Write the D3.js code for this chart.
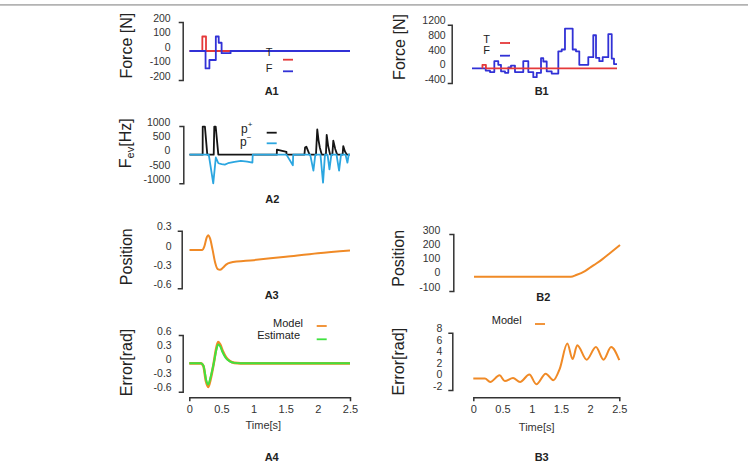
<!DOCTYPE html>
<html><head><meta charset="utf-8">
<script src="https://cdn.jsdelivr.net/npm/d3@7"></script>
<style>body{margin:0;background:#fff}svg{display:block;font-family:"Liberation Sans",Arial,Helvetica,sans-serif}</style>
</head><body><svg id="c" width="748" height="469"></svg>
<script>
// ---------- data ----------
const xTicks = [0, 0.5, 1, 1.5, 2, 2.5];
const a1Ticks = [-200, -100, 0, 100, 200];
const b1Ticks = [-400, 0, 400, 800, 1200];
const a2Ticks = [-1000, -500, 0, 500, 1000];
const a3Ticks = [-0.6, -0.3, 0, 0.3];
const b2Ticks = [-100, 0, 100, 200, 300];
const a4Ticks = [-0.6, -0.3, 0, 0.3, 0.6];
const b3Ticks = [-2, 0, 2, 4, 6, 8];

// A1 forces (step series)
const a1T_t = [0, 0.2, 0.257, 2.5];
const a1T_v = [0, 100, 0, 0];
const a1F_t = [0, 0.25, 0.31, 0.41, 0.455, 0.5, 0.64, 2.5];
const a1F_v = [0, -120, -62, 100, 57, -15, 0, 0];

// B1 forces (step series)
const b1T_t = [0.18, 0.18, 0.24, 2.5];
const b1T_v = [0, 100, 0, 0];
const b1F_t = [0, 0.236, 0.31, 0.385, 0.453, 0.5, 0.569, 0.626, 0.672, 0.741, 0.884, 0.971, 1.057, 1.116, 1.19, 1.229, 1.288, 1.374, 1.488, 1.547, 1.603, 1.736, 1.793, 1.85, 2.005, 2.091, 2.138, 2.195, 2.253, 2.35, 2.409, 2.448, 2.5];
const b1F_v = [0, -60, -100, 200, 100, -80, -120, 30, 75, -100, 200, -100, -240, -120, 280, 190, -80, -140, 470, 520, 1090, 520, 470, 100, 310, 910, 290, 200, 310, 940, 270, 120, 120];

// A2 event frequencies
const a2P_t = [0, 0.205, 0.206, 0.24, 0.277, 0.377, 0.386, 0.408, 0.449, 1.36, 1.361, 1.51, 1.511, 1.79, 1.8, 1.82, 1.87, 1.97, 1.99, 2.01, 2.03, 2.06, 2.125, 2.137, 2.16, 2.19, 2.225, 2.24, 2.27, 2.30, 2.385, 2.395, 2.42, 2.45, 2.5];
const a2P_v = [0, 0, 980, 980, 0, 0, 980, 980, 0, 0, 175, 100, 0, 0, 250, 280, 0, 0, 880, 500, 250, 0, 0, 690, 300, 0, 0, 490, 200, 0, 0, 300, 120, 0, 0];
const a2M_t = [0, 0.30, 0.37, 0.41, 0.45, 0.5, 0.55, 0.6, 0.7, 0.8, 0.9, 0.98, 0.985, 1.51, 1.61, 1.615, 1.88, 1.93, 1.96, 2.04, 2.08, 2.11, 2.15, 2.18, 2.21, 2.29, 2.33, 2.36, 2.43, 2.46, 2.48, 2.5];
const a2M_v = [0, 0, -1000, -100, -300, -330, -350, -300, -250, -220, -240, -280, 0, 0, -370, 0, 0, -560, 0, 0, -980, 0, 0, -510, 0, 0, -560, 0, 0, -280, 0, 0];

// A3 position
const a3_t = [0, 0.2, 0.23, 0.27, 0.29, 0.32, 0.36, 0.40, 0.44, 0.475, 0.52, 0.57, 0.63, 1.0, 1.5, 2.0, 2.5];
const a3_v = [0, 0, 0.05, 0.2, 0.23, 0.18, 0.0, -0.2, -0.3, -0.31, -0.28, -0.23, -0.2, -0.16, -0.107, -0.053, -0.01];

// B2 position
const b2_t = [0, 1.66, 1.75, 1.9, 2.0, 2.1, 2.2, 2.3, 2.4, 2.5];
const b2_v = [0, 0, 12, 40, 68, 95, 124, 156, 189, 223];

// A4 error
const a4M_t = [0, 0.18, 0.22, 0.26, 0.293, 0.33, 0.38, 0.42, 0.45, 0.48, 0.52, 0.57, 0.63, 0.7, 0.8, 1.0, 2.5];
const a4M_v = [0, 0, -0.06, -0.38, -0.5, -0.34, 0, 0.32, 0.45, 0.4, 0.26, 0.13, 0.05, 0.01, 0, 0, 0];
const a4E_v = [0, 0, -0.05, -0.34, -0.45, -0.3, 0, 0.28, 0.40, 0.36, 0.23, 0.11, 0.04, 0.01, 0, 0, 0];

// B3 error
const b3_t = [0, 0.2, 0.29, 0.45, 0.54, 0.68, 0.8, 0.96, 1.08, 1.24, 1.37, 1.48, 1.61, 1.70, 1.78, 1.94, 2.1, 2.23, 2.36, 2.5];
const b3_v = [0, 0, -0.6, 0.56, -0.45, 0.1, -0.6, 0.7, -1.0, 0.85, -0.3, 1.7, 6.1, 3.4, 5.8, 3.3, 5.5, 3.3, 5.5, 3.2];

// ---------- drawing ----------
const svg = d3.select("#c");
const C = {red:"#e5393a", blue:"#3131d6", black:"#151515", sky:"#2ba6e0", orange:"#f08a26", green:"#3fe23f", axis:"#333"};

svg.append("line").attr("x1",0).attr("x2",748).attr("y1",4.8).attr("y2",4.8)
  .attr("stroke","#b3b3b3").attr("stroke-width",1.7);

function panel(o){
  const x = d3.scaleLinear().domain([0,2.5]).range(o.xr);
  const y = d3.scaleLinear().domain(o.yd).range(o.yr);
  const g = svg.append("g").attr("transform",`translate(${o.ax},0)`)
    .call(d3.axisLeft(y).tickValues(o.ticks).tickSizeInner(0).tickSizeOuter(4)
      .tickPadding(o.pad).tickFormat(d=>String(d)));
  styleAxis(g);
  g.selectAll("text").attr("dy","-0.08em");
  if (o.xaxis){
    const gx = svg.append("g").attr("transform",`translate(0,${o.xaxis})`)
      .call(d3.axisBottom(x).tickValues(xTicks).tickSizeInner(0).tickSizeOuter(4)
        .tickPadding(8).tickFormat(d=>String(d)));
    styleAxis(gx);
    gx.selectAll("text").attr("font-size","11px");
  }
  return {x,y};
}
function styleAxis(g){
  g.attr("font-family",null).attr("font-size",null);
  g.select(".domain").attr("stroke",C.axis).attr("stroke-width",1.5);
  g.selectAll(".tick line").remove();
  g.selectAll("text").attr("fill","#333").attr("font-size","10.5px");
}
function series(s, t, v, color, curve, w){
  const data = d3.zip(t, v);
  svg.append("path").datum(data)
    .attr("fill","none").attr("stroke",color).attr("stroke-width",w||1.8)
    .attr("stroke-linejoin","round")
    .attr("d", d3.line().x(d=>s.x(d[0])).y(d=>s.y(d[1])).curve(curve||d3.curveLinear));
}
function ylabel(x, y, txt){
  svg.append("text").attr("transform",`translate(${x},${y}) rotate(-90)`)
    .attr("text-anchor","middle").attr("dominant-baseline","central")
    .attr("font-size","16px").attr("fill","#222").text(txt);
}
function title(x, y, txt){
  svg.append("text").attr("x",x).attr("y",y).attr("text-anchor","middle")
    .attr("dominant-baseline","central").attr("font-weight","bold")
    .attr("font-size","11px").attr("fill","#222").text(txt);
}
function ltext(x, y, txt, anchor){
  return svg.append("text").attr("x",x).attr("y",y).attr("text-anchor",anchor||"middle")
    .attr("dominant-baseline","central").attr("font-size","11px").attr("fill","#222").text(txt);
}
function dash(x1, x2, y, color){
  svg.append("line").attr("x1",x1).attr("x2",x2).attr("y1",y).attr("y2",y)
    .attr("stroke",color).attr("stroke-width",1.8);
}

// A1
const pA1 = panel({xr:[189.5,350], yd:[-200,200], yr:[80,22], ax:182.7, ticks:a1Ticks, pad:12});
series(pA1, a1T_t, a1T_v, C.red, d3.curveStepAfter);
series(pA1, a1F_t, a1F_v, C.blue, d3.curveStepAfter);
ylabel(126.7, 45.7, "Force [N]");
ltext(269, 52, "T"); ltext(269, 68, "F");
dash(283, 293, 59.7, C.red); dash(283, 293, 71.3, C.blue);
title(271.7, 91.3, "A1");

// B1
const pB1 = panel({xr:[472,617], yd:[-400,1200], yr:[83,24.7], ax:451.7, ticks:b1Ticks, pad:6});
series(pB1, b1F_t, b1F_v, C.blue, d3.curveStepAfter);
series(pB1, b1T_t, b1T_v, C.red, d3.curveStepAfter);
ylabel(399, 47, "Force [N]");
ltext(486.7, 38.7, "T"); ltext(486.7, 49.5, "F");
dash(500, 510, 43, C.red); dash(500, 510, 55.7, C.blue);
title(541.7, 91.3, "B1");

// A2
const pA2 = panel({xr:[189.5,350], yd:[-1000,1000], yr:[183.3,126], ax:183.3, ticks:a2Ticks, pad:13});
series(pA2, a2P_t, a2P_v, C.black, d3.curveLinear, 1.8);
series(pA2, a2M_t, a2M_v, C.sky, d3.curveLinear, 1.8);
{
  const t = svg.append("text").attr("transform","translate(125,143.3) rotate(-90)")
    .attr("text-anchor","middle").attr("dominant-baseline","central")
    .attr("font-size","16px").attr("fill","#222");
  t.append("tspan").text("F");
  t.append("tspan").attr("font-size","11px").attr("dy","5").text("ev");
  t.append("tspan").attr("dy","-5").text("[Hz]");
}
{
  const l1 = ltext(241, 129, "p", "start"); l1.attr("font-size","12px");
  l1.append("tspan").attr("font-size","8px").attr("dy","-5").text("+");
  const l2 = ltext(240, 142, "p", "start"); l2.attr("font-size","12px");
  l2.append("tspan").attr("font-size","8px").attr("dy","-5").text("−");
}
dash(266.7, 276.7, 132.7, C.black); dash(266.7, 276.7, 143.3, C.sky);
title(272.3, 199.3, "A2");

// A3
const pA3 = panel({xr:[189.5,350], yd:[-0.6,0.3], yr:[288.3,230.7], ax:181.7, ticks:a3Ticks, pad:10});
series(pA3, a3_t, a3_v, C.orange, d3.curveMonotoneX, 2);
ylabel(126.7, 256.7, "Position");
title(271.7, 295, "A3");

// B2
const pB2 = panel({xr:[474,620], yd:[-100,300], yr:[291,234], ax:453.3, ticks:b2Ticks, pad:13});
series(pB2, b2_t, b2_v, C.orange, d3.curveMonotoneX, 2);
ylabel(398.3, 258.3, "Position");
title(543.3, 297.3, "B2");

// A4
const pA4 = panel({xr:[189.3,350], yd:[-0.6,0.6], yr:[391.7,335], ax:182.7, ticks:a4Ticks, pad:11, xaxis:397.3});
series(pA4, a4M_t, a4M_v, C.orange, d3.curveMonotoneX, 2.6);
series(pA4, a4M_t, a4E_v, C.green, d3.curveMonotoneX, 2);
ylabel(126.7, 362.5, "Error[rad]");
ltext(303, 323.3, "Model", "end"); ltext(300, 335, "Estimate", "end");
dash(316.7, 326.7, 326, C.orange); dash(316.7, 326.7, 339.3, C.green);
svg.append("text").attr("x",263.3).attr("y",425).attr("text-anchor","middle")
  .attr("dominant-baseline","central").attr("font-size","11px").attr("fill","#333").text("Time[s]");
title(271.7, 456.7, "A4");

// B3
const pB3 = panel({xr:[473.3,619.3], yd:[-2,8], yr:[390,332.7], ax:452.3, ticks:b3Ticks, pad:10, xaxis:397.3});
series(pB3, b3_t, b3_v, C.orange, d3.curveMonotoneX, 2);
ylabel(398.3, 361.7, "Error[rad]");
ltext(521.7, 320, "Model", "end");
dash(535, 545, 324, C.orange);
svg.append("text").attr("x",536.7).attr("y",426.7).attr("text-anchor","middle")
  .attr("dominant-baseline","central").attr("font-size","11px").attr("fill","#333").text("Time[s]");
title(541.7, 456.7, "B3");
</script></body></html>
